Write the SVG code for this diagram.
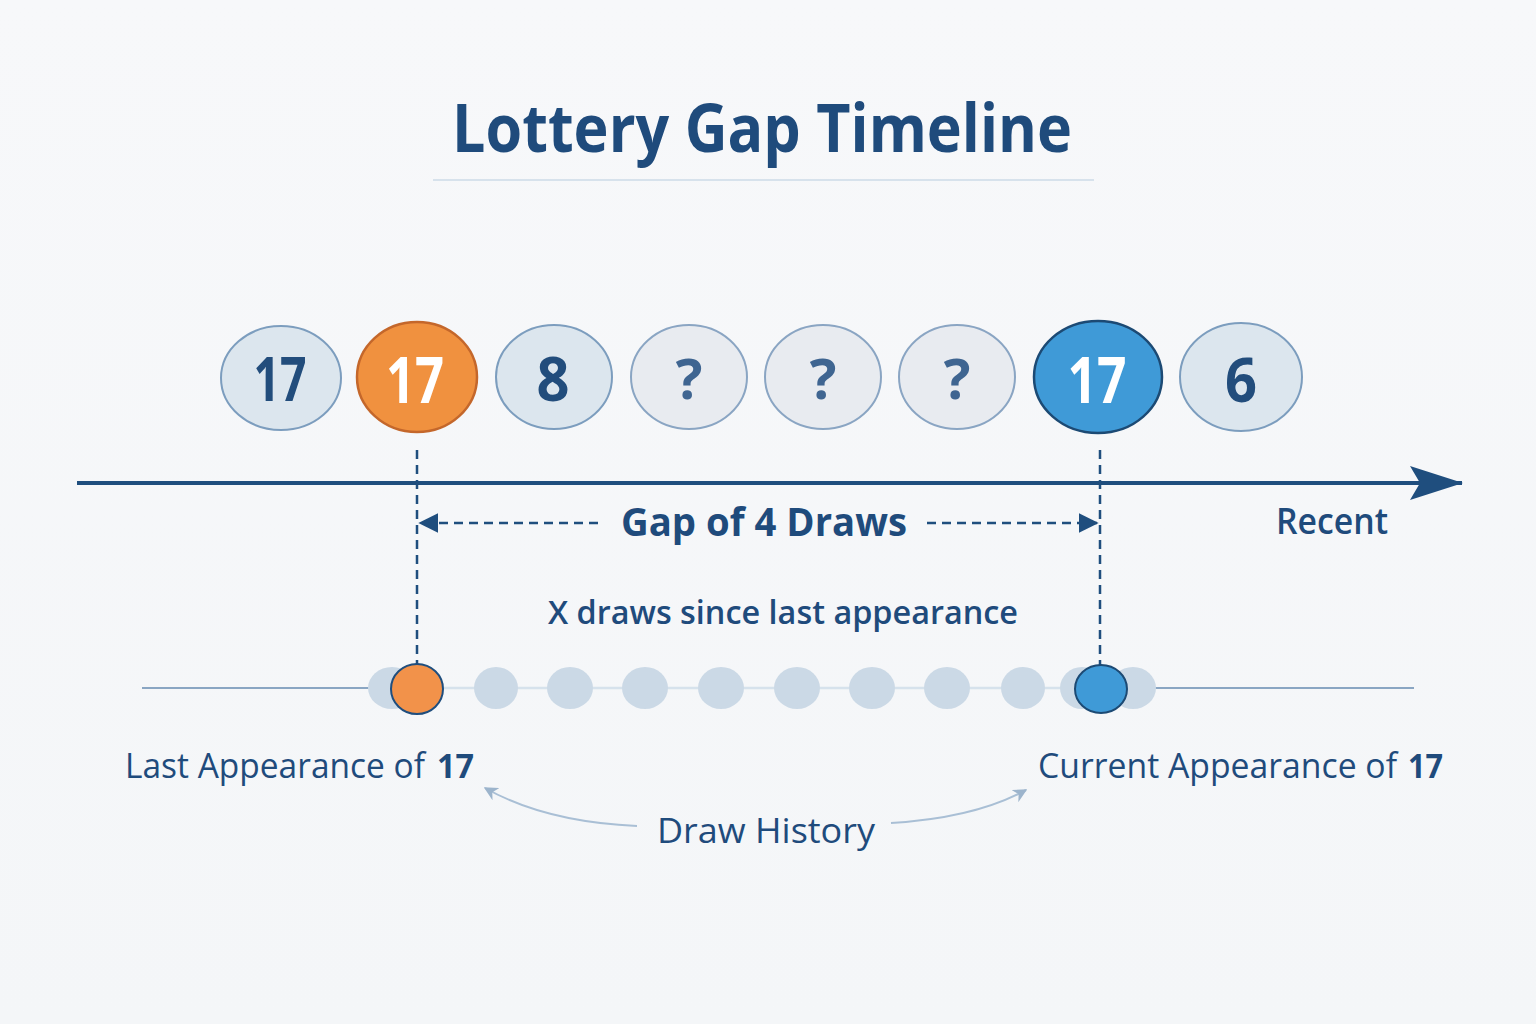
<svg xmlns="http://www.w3.org/2000/svg" width="1536" height="1024" viewBox="0 0 1536 1024">
<defs>
<linearGradient id="bg" x1="0" y1="0" x2="0" y2="1">
<stop offset="0" stop-color="#f7f8fa"/>
<stop offset="1" stop-color="#f4f6f8"/>
</linearGradient>
<marker id="axisHead" viewBox="0 0 54 34" refX="52" refY="17" markerWidth="54" markerHeight="34" markerUnits="userSpaceOnUse" orient="auto">
<path d="M0,0 L53,17 L0,34 L10,17 Z" fill="#1f4e7e"/>
</marker>
<marker id="gapHead" viewBox="0 0 12 12" refX="11" refY="6" markerWidth="20" markerHeight="20" markerUnits="userSpaceOnUse" orient="auto">
<path d="M0,0 L12,6 L0,12 Z" fill="#1f4e7e"/>
</marker>
<marker id="softHead" viewBox="0 0 10 10" refX="9" refY="5" markerWidth="14" markerHeight="14" markerUnits="userSpaceOnUse" orient="auto">
<path d="M0,0 L10,5 L0,10 L3,5 Z" fill="#9cb4cc"/>
</marker>
</defs>
<style>
text { font-family: "Open Sans", "Noto Sans", "Liberation Sans", sans-serif; fill: #1f4b7c; }
.ballLight { fill: #dce6ee; stroke: #7c9dbe; stroke-width: 2; }
.ballGrey { fill: #e8ebf0; stroke: #8aa5c3; stroke-width: 2; }
.num { font-weight: 700; text-anchor: middle; fill: #224d7c; }
.q { font-weight: 700; text-anchor: middle; fill: #3f6591; }
.dot { fill: #cbd9e6; }
.dash { stroke: #1f4e7e; stroke-width: 2.5; stroke-dasharray: 9 6; fill: none; }
.label { font-size: 34px; }
</style>
<rect width="1536" height="1024" fill="url(#bg)"/>

<g id="title">
<text x="452" y="152" font-size="66" font-weight="700" textLength="620" lengthAdjust="spacingAndGlyphs" fill="#1f4b7c">Lottery Gap Timeline</text>
<line x1="433" y1="180" x2="1094" y2="180" stroke="#d7e2ec" stroke-width="2"/>
</g>

<g id="connectors">
<line x1="77" y1="483" x2="1462" y2="483" stroke="#1f4e7e" stroke-width="4" marker-end="url(#axisHead)"/>
<line class="dash" x1="417" y1="450" x2="417" y2="665"/>
<line class="dash" x1="1100" y1="450" x2="1100" y2="665"/>
<line class="dash" x1="598" y1="523" x2="420" y2="523" marker-end="url(#gapHead)"/>
<line class="dash" x1="927" y1="523" x2="1097" y2="523" marker-end="url(#gapHead)"/>
<path d="M637,826 Q545,822 485,788" fill="none" stroke="#a9bfd5" stroke-width="2" marker-end="url(#softHead)"/>
<path d="M891,823 Q975,818 1026,790" fill="none" stroke="#a9bfd5" stroke-width="2" marker-end="url(#softHead)"/>
</g>

<g id="ball1">
<ellipse class="ballLight" cx="281" cy="378" rx="60" ry="52"/>
<text class="num" x="280" y="401" font-size="60" textLength="53" lengthAdjust="spacingAndGlyphs">17</text>
</g>
<g id="ball2">
<ellipse cx="417" cy="377" rx="60" ry="55" fill="#f0913f" stroke="#c4672b" stroke-width="2.5"/>
<text class="num" x="415" y="403" font-size="64" textLength="58" lengthAdjust="spacingAndGlyphs" style="fill:#ffffff">17</text>
</g>
<g id="ball3">
<ellipse class="ballLight" cx="554" cy="377" rx="58" ry="52"/>
<text class="num" x="553" y="401" font-size="60" textLength="33" lengthAdjust="spacingAndGlyphs">8</text>
</g>
<g id="ball4">
<ellipse class="ballGrey" cx="689" cy="377" rx="58" ry="52"/>
<text class="q" x="689" y="399" font-size="56">?</text>
</g>
<g id="ball5">
<ellipse class="ballGrey" cx="823" cy="377" rx="58" ry="52"/>
<text class="q" x="823" y="399" font-size="56">?</text>
</g>
<g id="ball6">
<ellipse class="ballGrey" cx="957" cy="377" rx="58" ry="52"/>
<text class="q" x="957" y="399" font-size="56">?</text>
</g>
<g id="ball7">
<ellipse cx="1098" cy="377" rx="64" ry="56" fill="#3f9ad7" stroke="#1c4a74" stroke-width="2.5"/>
<text class="num" x="1097" y="403" font-size="64" textLength="59" lengthAdjust="spacingAndGlyphs" style="fill:#ffffff">17</text>
</g>
<g id="ball8">
<ellipse class="ballLight" cx="1241" cy="377" rx="61" ry="54"/>
<text class="num" x="1241" y="402" font-size="60" textLength="32" lengthAdjust="spacingAndGlyphs">6</text>
</g>

<g id="gap-label">
<text x="621" y="536" font-size="40" font-weight="700" textLength="286" lengthAdjust="spacingAndGlyphs">Gap of 4 Draws</text>
</g>
<g id="recent-label">
<text x="1276" y="534" font-size="36" font-weight="600" textLength="112" lengthAdjust="spacingAndGlyphs">Recent</text>
</g>
<g id="since-label">
<text x="548" y="624" font-size="33" font-weight="600" textLength="470" lengthAdjust="spacingAndGlyphs" fill="#2a5688">X draws since last appearance</text>
</g>

<g id="history-track">
<line x1="142" y1="688" x2="372" y2="688" stroke="#8aa6c3" stroke-width="2"/>
<line x1="372" y1="688" x2="1155" y2="688" stroke="#d6e2ec" stroke-width="2.5"/>
<line x1="1155" y1="688" x2="1414" y2="688" stroke="#8aa6c3" stroke-width="2"/>
<ellipse class="dot" cx="392" cy="688" rx="24" ry="21"/>
<ellipse class="dot" cx="496" cy="688" rx="22" ry="21"/>
<ellipse class="dot" cx="570" cy="688" rx="23" ry="21"/>
<ellipse class="dot" cx="645" cy="688" rx="23" ry="21"/>
<ellipse class="dot" cx="721" cy="688" rx="23" ry="21"/>
<ellipse class="dot" cx="797" cy="688" rx="23" ry="21"/>
<ellipse class="dot" cx="872" cy="688" rx="23" ry="21"/>
<ellipse class="dot" cx="947" cy="688" rx="23" ry="21"/>
<ellipse class="dot" cx="1023" cy="688" rx="22" ry="21"/>
<ellipse class="dot" cx="1082" cy="688" rx="22" ry="21"/>
<ellipse class="dot" cx="1133" cy="688" rx="23" ry="21"/>
</g>
<g id="last-marker">
<ellipse cx="417" cy="689" rx="26" ry="25" fill="#f2924a" stroke="#1f4e7e" stroke-width="2"/>
</g>
<g id="current-marker">
<ellipse cx="1101" cy="689" rx="26" ry="24" fill="#3f9ad7" stroke="#1c4a74" stroke-width="2"/>
</g>

<g id="last-label">
<text class="label" x="125" y="778" textLength="300" lengthAdjust="spacingAndGlyphs">Last Appearance of</text>
<text class="label" x="437" y="778" font-weight="700" textLength="37" lengthAdjust="spacingAndGlyphs">17</text>
</g>
<g id="current-label">
<text class="label" x="1038" y="778" textLength="359" lengthAdjust="spacingAndGlyphs">Current Appearance of</text>
<text class="label" x="1408" y="778" font-weight="700" textLength="35" lengthAdjust="spacingAndGlyphs">17</text>
</g>
<g id="history-label">
<text x="657" y="843" font-size="34" textLength="218" lengthAdjust="spacingAndGlyphs" fill="#3a6590">Draw History</text>
</g>
</svg>
